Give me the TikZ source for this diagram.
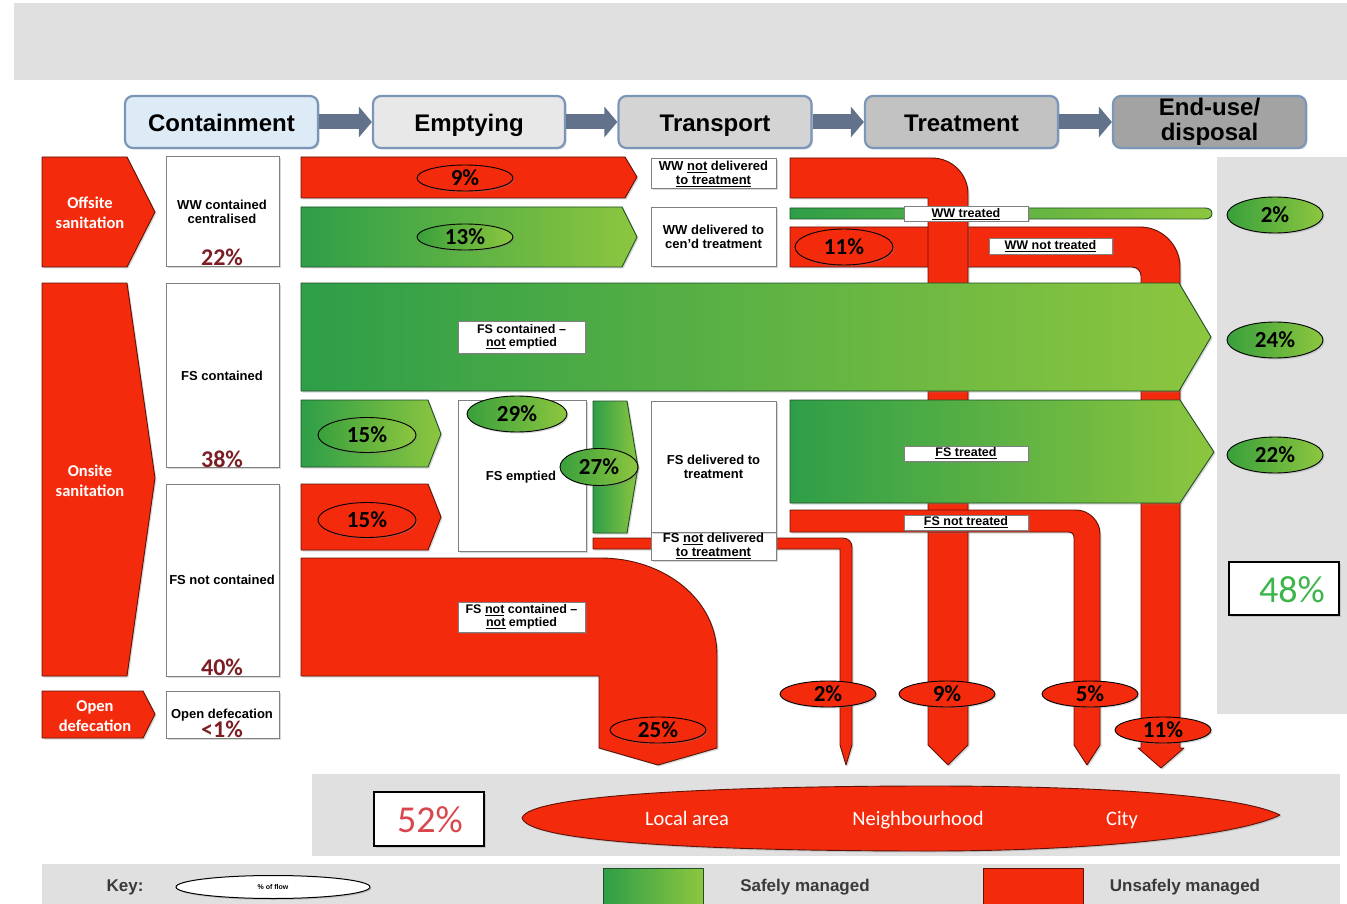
\documentclass[tikz,border=0pt]{standalone}
\usepackage{fontspec}
\setmainfont{Liberation Sans}
\newfontfamily\calfont{Carlito}
\usetikzlibrary{shapes.geometric,shadows,arrows.meta}
\definecolor{myred}{HTML}{F42A0D}
\definecolor{reddark}{HTML}{5E1208}
\definecolor{gdark}{HTML}{2E9E48}
\definecolor{glight}{HTML}{8DC63F}
\definecolor{egdark}{HTML}{39A03C}
\definecolor{greendark}{HTML}{1F4F26}
\definecolor{panel}{HTML}{E0E0E0}
\definecolor{boxgray}{HTML}{808080}
\definecolor{pctred}{HTML}{7B1F24}
\definecolor{hdrblue}{HTML}{7C96B8}
\definecolor{hdrlight}{HTML}{DDEBF7}
\definecolor{arrowc}{HTML}{62728A}
\definecolor{okgreen}{HTML}{3DB54A}
\definecolor{badred}{HTML}{D9464E}
\definecolor{keytext}{HTML}{3A3A3A}
\begin{document}
\begin{tikzpicture}[x=1pt,y=-1pt,
  shad/.style={drop shadow={shadow xshift=1.5pt,shadow yshift=-1.5pt,opacity=0.3}},
  redshape/.style={fill=myred,draw=reddark,line width=0.9pt,line join=round},
  grnshape/.style={left color=gdark,right color=glight,draw=greendark,line width=0.9pt,line join=round},
  wbox/.style={fill=white,draw=boxgray,line width=1pt},
  tag/.style={fill=white,draw=boxgray,line width=0.8pt},
  pct/.style={ellipse,draw=black,line width=0.9pt,minimum width=96pt,minimum height=26pt,inner sep=0pt,font=\calfont\bfseries\fontsize{23}{23}\selectfont},
  redpct/.style={pct,fill=myred,shad},
  grnpct/.style={pct,left color=egdark,right color=glight,shad},
  lbl/.style={font=\bfseries\fontsize{13}{14}\selectfont,align=center,inner sep=0pt},
  taglbl/.style={font=\bfseries\fontsize{12.5}{13.5}\selectfont,align=center,inner sep=0pt},
  boxpct/.style={font=\calfont\bfseries\fontsize{24}{24}\selectfont,text=pctred,inner sep=0pt},
  hdrbox/.style={rounded corners=8pt,draw=hdrblue,line width=2.2pt,minimum height=52pt,minimum width=193pt,inner sep=0pt,shad},
  hdrtxt/.style={font=\bfseries\fontsize{24}{25}\selectfont,align=center,inner sep=0pt},
  harrow/.style={line width=15pt,draw=arrowc,-{Triangle[length=13pt,width=30pt]}},
  chev/.style={font=\calfont\bfseries\fontsize{16.5}{20}\selectfont,text=white,align=center,inner sep=0pt},
  zone/.style={font=\calfont\fontsize{20.5}{20.5}\selectfont,text=white,inner sep=0pt,anchor=base},
  keylbl/.style={font=\bfseries\fontsize{17}{17}\selectfont,text=keytext,inner sep=0pt},
]
\useasboundingbox (0,0) rectangle (1347,904);
\fill[white] (0,0) rectangle (1347,904);
% grey panels
\fill[panel] (14,3) rectangle (1347,80);
\fill[panel] (1217,157) rectangle (1347,714);
\fill[panel] (312,774) rectangle (1340,856);
\fill[panel] (42,864) rectangle (1340,904);

% header
\node[hdrbox,fill=hdrlight] (cont) at (221.5,122) {};
\node[hdrbox,fill=black!9,minimum width=192pt] (empt) at (469,122) {};
\node[hdrbox,fill=black!17] (tran) at (715,122) {};
\node[hdrbox,fill=black!24] (treat) at (961.5,122) {};
\node[hdrbox,fill=black!36] (endu) at (1209.5,122) {};
\node[hdrtxt,anchor=base] (contt) at (221.5,132) {Containment};
\node[hdrtxt,anchor=base] (emptt) at (469,132) {Emptying};
\node[hdrtxt,anchor=base] (trant) at (715,132) {Transport};
\node[hdrtxt,anchor=base] (treatt) at (961.5,132) {Treatment};
\node[hdrtxt] (endut) at (1209.5,122) {End-use/\\disposal};
\draw[harrow] (cont.east) -- (empt.west);
\draw[harrow] (empt.east) -- (tran.west);
\draw[harrow] (tran.east) -- (treat.west);
\draw[harrow] (treat.east) -- (endu.west);

% left chevrons
\path[redshape,shad] (42,157) -- (127,157) -- (155,212) -- (127,267) -- (42,267) -- cycle;
\path[redshape,shad] (42,283) -- (127,283) -- (155,478) -- (127,676) -- (42,676) -- cycle;
\path[redshape,shad] (42,691) -- (143,691) -- (155,714) -- (143,738) -- (42,738) -- cycle;
\node[chev] (offs) at (90,213) {Offsite\\sanitation};
\node[chev] (ons) at (90,481) {Onsite\\sanitation};
\node[chev] (opd) at (95,716) {Open\\defecation};

% containment boxes
\path[wbox,shad] (166,157) rectangle (279,267);
\path[wbox,shad] (166,283) rectangle (279,467);
\path[wbox,shad] (166,484) rectangle (279,676);
\path[wbox,shad] (166,691) rectangle (279,738);
\node[lbl] (wwc) at (222,212) {WW contained\\centralised};
\node[boxpct] (c22) at (222,257) {22\%};
\node[lbl] (fsc) at (222,376) {FS contained};
\node[boxpct] (c38) at (222,459) {38\%};
\node[lbl] (fsnc) at (222,580) {FS not contained};
\node[boxpct] (c40) at (222,667) {40\%};
\node[boxpct] (c1) at (222,729) {<1\%};
\node[lbl] (odl) at (222,715) {Open defecation};

% emptying flows
\path[redshape,shad] (301,157) -- (625,157) -- (637,177) -- (625,198) -- (301,198) -- cycle;
\path[grnshape,shad] (301,207) -- (622,207) -- (637,237) -- (622,267) -- (301,267) -- cycle;
\path[grnshape,shad] (301,400) -- (428,400) -- (441,434) -- (428,467) -- (301,467) -- cycle;
\path[redshape,shad] (301,484) -- (428,484) -- (441,517) -- (428,550) -- (301,550) -- cycle;
% FS not contained - not emptied
\path[redshape,shad] (301,558) -- (600,558) .. controls (665,558) and (717,600) .. (717,655) -- (717,748) -- (658,765) -- (599,748) -- (599,676) -- (301,676) -- cycle;
% FS not delivered pipe
\path[redshape,shad] (593,538) -- (843,538) .. controls (848,538) and (852,542) .. (852,547) -- (852,745) -- (846,765) -- (840,745) -- (840,549) -- (593,549) -- cycle;
% WW not treated pipe
\path[redshape,shad] (790,227) -- (1140,227) .. controls (1162,227) and (1180,245) .. (1180,267) -- (1180,748) -- (1184,748) -- (1161,768) -- (1138,748) -- (1141,748) -- (1141,276) .. controls (1141,271) and (1137,267) .. (1132,267) -- (790,267) -- cycle;
% WW not delivered pipe
\path[redshape,shad] (790,158) -- (932,158) .. controls (952,158) and (968,174) .. (968,194) -- (968,745) -- (948,765) -- (928,745) -- (928,198) -- (790,198) -- cycle;
% FS not treated pipe
\path[redshape,shad] (790,510) -- (1076,510) .. controls (1089,510) and (1100,521) .. (1100,534) -- (1100,745) -- (1087,765) -- (1074,745) -- (1074,538) .. controls (1074,534) and (1072,532) .. (1068,532) -- (790,532) -- cycle;

% green bands
\path[grnshape,shad] (301,283) -- (1179,283) -- (1211,337) -- (1179,391) -- (301,391) -- cycle;
\path[grnshape,shad] (790,400) -- (1180,400) -- (1214,452) -- (1180,503) -- (790,503) -- cycle;
\path[grnshape] (790,208) -- (1205,208) .. controls (1209,208) and (1212,210) .. (1212,213.5) .. controls (1212,217) and (1209,219) .. (1205,219) -- (790,219) -- cycle;
\path[grnshape,shad] (593,401) -- (627,401) -- (638,467) -- (627,533) -- (593,533) -- cycle;

% transport / emptied boxes
\path[wbox,shad] (651,159) rectangle (776,189);
\path[wbox,shad] (651,208) rectangle (776,267);
\path[wbox,shad] (458,400) rectangle (586,551);
\path[wbox,shad] (651,532) rectangle (776,560);
\path[wbox,shad] (651,401) rectangle (776,532);
\node[lbl] (wwnd) at (713.5,174) {WW \underline{not} delivered\\\underline{to treatment}};
\node[lbl] (wwd) at (713.5,237) {WW delivered to\\cen’d treatment};
\node[lbl] (fse) at (521,477) {FS emptied};
\node[lbl] (fsd) at (713.5,467) {FS delivered to\\treatment};
\node[lbl] (fsnd) at (713.5,546) {FS \underline{not} delivered\\\underline{to treatment}};

% tags
\path[tag,shad] (458,321) rectangle (585,353);
\path[tag,shad] (458,602) rectangle (585,632);
\path[tag,shad] (904,206) rectangle (1028,221);
\path[tag,shad] (989,238) rectangle (1112,254);
\path[tag,shad] (904,446) rectangle (1028,461);
\path[tag,shad] (904,515) rectangle (1028,530);
\node[taglbl] (t1) at (521.5,337) {FS contained –\\\underline{not} emptied};
\node[taglbl] (t2) at (521.5,617) {FS \underline{not} contained –\\\underline{not} emptied};
\node[taglbl] (t3) at (966,214) {\underline{WW treated}};
\node[taglbl] (t4) at (1050.5,246) {\underline{WW not treated}};
\node[taglbl] (t5) at (966,453) {\underline{FS treated}};
\node[taglbl] (t6) at (966,522.5) {\underline{FS not treated}};

% percentage ellipses
\node[redpct] (p9) at (465,178) {9\%};
\node[grnpct] (p13) at (465,237) {13\%};
\node[grnpct,minimum width=98pt,minimum height=35pt] (p15g) at (367,435) {15\%};
\node[redpct,minimum width=98pt,minimum height=35pt] (p15r) at (367,520) {15\%};
\node[grnpct,minimum width=100pt,minimum height=36pt] (p29) at (517,414) {29\%};
\node[grnpct,minimum width=78pt,minimum height=37pt] (p27) at (599,467) {27\%};
\node[redpct,minimum width=98pt,minimum height=36pt] (p11a) at (844,247) {11\%};
\node[redpct] (p25) at (658,730) {25\%};
\node[redpct] (p2b) at (828,694) {2\%};
\node[redpct] (p9b) at (947,694) {9\%};
\node[redpct] (p5) at (1090,694) {5\%};
\node[redpct] (p11b) at (1163,730) {11\%};
\node[grnpct,minimum height=36pt] (e2) at (1275,215) {2\%};
\node[grnpct,minimum height=36pt] (e24) at (1275,340) {24\%};
\node[grnpct,minimum height=36pt] (e22) at (1275,455) {22\%};

% totals
\node[draw=black,line width=2.5pt,fill=white,minimum width=110pt,minimum height=53pt,shad] (b48) at (1284,588.5) {};
\node[font=\calfont\fontsize{38}{38}\selectfont,text=okgreen,inner sep=0pt] (t48) at (1292,590) {48\%};
\node[draw=black,line width=2.5pt,fill=white,minimum width=110pt,minimum height=54pt,shad] (b52) at (429,819) {};
\node[font=\calfont\fontsize{38}{38}\selectfont,text=badred,inner sep=0pt] (t52) at (430,820) {52\%};

% disposal zones
\path[redshape,shad] (522,818) .. controls (530,790) and (800,786) .. (930,786) .. controls (1100,786) and (1240,795) .. (1280,815) .. controls (1240,835) and (1100,851) .. (930,851) .. controls (800,851) and (530,848) .. (522,818) -- cycle;
\node[zone] (z1) at (687,825) {Local area};
\node[zone] (z2) at (918,825) {Neighbourhood};
\node[zone] (z3) at (1122,825) {City};

% key
\node[keylbl] (key) at (125,887) {Key:};
\node[ellipse,draw=black,line width=1pt,fill=white,minimum width=194pt,minimum height=23pt,inner sep=0pt,font=\bfseries\fontsize{7}{7}\selectfont,shad] (kell) at (273,887) {\% of flow};
\path[grnshape] (603,868) rectangle (703,904);
\path[redshape] (983,868) rectangle (1083,904);
\node[keylbl] (ksafe) at (805,887) {Safely managed};
\node[keylbl] (kunsafe) at (1185,887) {Unsafely managed};
\end{tikzpicture}
\end{document}
